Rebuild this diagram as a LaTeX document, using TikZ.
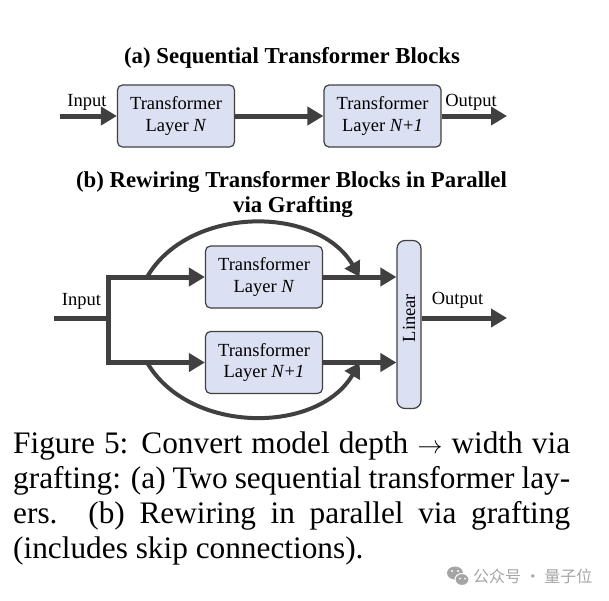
\documentclass[tikz,border=0pt]{standalone}
\usepackage{fontspec}
\setmainfont{Liberation Serif}
\newfontfamily\cjk{Noto Sans CJK SC}
\usetikzlibrary{arrows.meta,calc}

\definecolor{boxfill}{RGB}{219,225,242}
\definecolor{linegray}{RGB}{64,64,64}
\definecolor{markgray}{RGB}{165,165,165}

\begin{document}
\begin{tikzpicture}[x=1pt, y=-1pt,
  arr/.style={-{Triangle[length=16pt,width=18pt]}, line width=5pt, draw=linegray},
  wire/.style={line width=5pt, draw=linegray},
  skip/.style={-{Triangle[length=15pt,width=17pt]}, line width=4pt, draw=linegray},
  layer/.style={draw=linegray, line width=1.2pt, fill=boxfill, rounded corners=5pt, minimum width=117pt, minimum height=62pt, inner sep=0pt, align=center, font=\fontsize{18.5}{21.7}\selectfont},
  linbox/.style={draw=linegray, line width=1.2pt, fill=boxfill, rounded corners=8pt, minimum width=24pt, minimum height=168pt, inner sep=0pt},
  lbl/.style={anchor=base, inner sep=0pt, font=\fontsize{18.5}{21.7}\selectfont},
  ttl/.style={anchor=base, inner sep=0pt, font=\fontsize{22.8}{25}\selectfont\bfseries},
  capline/.style={anchor=base west, inner sep=0pt, font=\fontsize{31.3}{35}\selectfont}
]
\useasboundingbox (0,0) rectangle (609,600);

% (a) sequential
\node[ttl] (ttla) at (292,63) {(a) Sequential Transformer Blocks};
\coordinate (ina) at (60,116);
\coordinate (outa) at (507,116);
\node[layer] (la1) at (176,116) {Transformer\\Layer \textit{N}};
\node[layer] (la2) at (382.5,116) {Transformer\\Layer \textit{N}+\textit{1}};
\node[lbl] (inlbla) at (87,106) {Input};
\node[lbl] (outlbla) at (471,106) {Output};

\draw[arr] (ina) -- (la1);
\draw[arr] (la1) -- (la2);
\draw[arr] (la2) -- (outa);

% (b) parallel
\node[ttl] (ttlb1) at (291.5,187) {(b) Rewiring Transformer Blocks in Parallel};
\node[ttl] (ttlb2) at (293,212) {via Grafting};
\node[layer] (lb1) at (264,277) {Transformer\\Layer \textit{N}};
\node[layer] (lb2) at (264,362.5) {Transformer\\Layer \textit{N}+\textit{1}};
\node[linbox] (lin) at (409,324.5) {};
\node[rotate=90, inner sep=0pt, font=\fontsize{18.5}{21.7}\selectfont] (lintxt) at (409,318) {Linear};
\node[lbl] (inlblb) at (81.5,305) {Input};
\node[lbl] (outlblb) at (457.5,304) {Output};

\coordinate (inb) at (54,318);
\coordinate (fork) at (108.5,318);
\coordinate (forku) at (108.5,277);
\coordinate (forkl) at (108.5,362.5);
\coordinate (outb) at (507,318);

\draw[wire] (inb) -- (fork);
\draw[wire, line cap=rect] (forku) -- (forkl);
\draw[arr] (forku) -- (lb1);
\draw[arr] (forkl) -- (lb2);
\draw[arr] (lb1) -- (lb1 -| lin.west);
\draw[arr] (lb2) -- (lb2 -| lin.west);
\draw[arr] (lin.east |- outb) -- (outb);

% skip connections
\coordinate (sku) at ($(forku)!0.4!(lb1.west)$);
\coordinate (eku) at ($(lb1.east)!0.5!(lb1.east -| lin.west)$);
\coordinate (skl) at ($(forkl)!0.4!(lb2.west)$);
\coordinate (ekl) at ($(lb2.east)!0.5!(lb2.east -| lin.west)$);
\draw[skip] (sku) .. controls +(42,-72) and +(-42,-72) .. (eku);
\draw[skip] (skl) .. controls +(42,72) and +(-42,72) .. (ekl);

% caption
\node[capline] (cap1) at (13,453) {\hbox to 557pt{Figure 5: Convert model depth $\rightarrow$ width via}};
\node[capline] (cap2) at (13,488) {\hbox to 557pt{grafting: (a) Two sequential transformer lay-}};
\node[capline] (cap3) at (13,523) {\hbox to 557pt{ers. (b) Rewiring in parallel via grafting}};
\node[capline] (cap4) at (13,558) {(includes skip connections).};

% watermark
\fill[markgray] (455,573) ellipse (8 and 6.5);
\fill[markgray, draw=white, line width=1pt] (462,579.5) ellipse (7 and 6);
\fill[white] (452,571) circle (1.2) (458,571) circle (1.2) (460,578.5) circle (1) (465,578.5) circle (1);
\node[anchor=west, inner sep=0pt, text=markgray, font=\cjk\fontsize{16}{16}\selectfont] (wm) at (473,576) {公众号 · 量子位};
\end{tikzpicture}
\end{document}
